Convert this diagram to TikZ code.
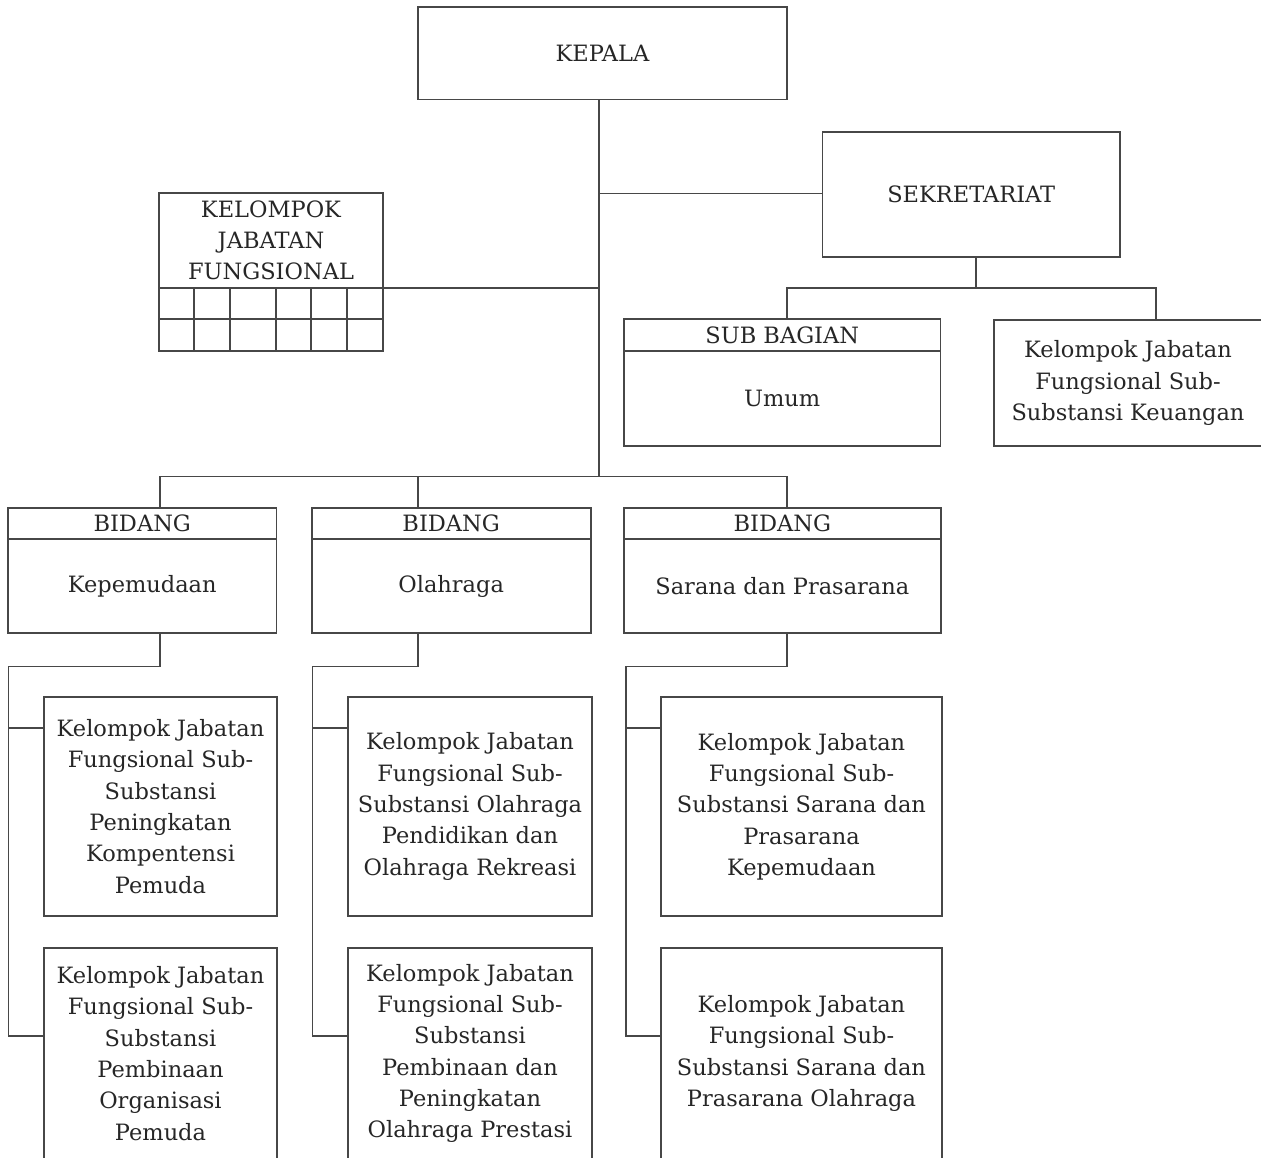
\documentclass[tikz,border=0pt]{standalone}
\usepackage{fontspec}
\setmainfont{DejaVu Serif}
\newcommand{\fs}{\fontsize{22.5}{31.3}\selectfont}
\begin{document}
\begin{tikzpicture}[x=1pt,y=-1pt,
  ln/.style={draw=black!72, line width=1.8pt},
  box/.style={draw=black!72, line width=1.8pt, rectangle, inner sep=0pt, outer sep=0pt, align=center, text=black!85, font=\fs},
]
\path[use as bounding box] (0,0) rectangle (1261,1157);
% top level
\node[box, minimum width=369pt, minimum height=92.5pt] (kepala) at (602.5,53.25) {KEPALA};
\node[box, minimum width=297.5pt, minimum height=124.4pt] (sekr) at (971.25,194.5) {SEKRETARIAT};
\node[box, minimum width=223.4pt, minimum height=94.4pt] (kjf) at (271,240.5) {KELOMPOK\\JABATAN\\FUNGSIONAL};
% grid under KJF
\draw[ln] (kjf.south west) rectangle ++(223.4,63);
\draw[ln] (kjf.south west) ++(0,31.3) -- ++(223.4,0);
\foreach \dx in {35,71,116.4,152,187.4}{\draw[ln] (kjf.south west) ++(\dx,0) -- ++(0,63);}
% sekretariat children
\node[box, minimum width=316.5pt, minimum height=31.4pt] (subh) at (782.25,335) {SUB BAGIAN};
\node[box, minimum width=316.5pt, minimum height=95.3pt, anchor=north] (subb) at (subh.south) {Umum};
\node[box, minimum width=268pt, minimum height=126pt] (keu) at (1128,383) {Kelompok Jabatan\\Fungsional Sub-\\Substansi Keuangan};
% bidang
\node[box, minimum width=268.5pt, minimum height=31.3pt] (bid1h) at (142.25,523.65) {BIDANG};
\node[box, minimum width=268.5pt, minimum height=94pt, anchor=north] (bid1b) at (bid1h.south) {Kepemudaan};
\node[box, minimum width=279.1pt, minimum height=31.3pt] (bid2h) at (451.15,523.65) {BIDANG};
\node[box, minimum width=279.1pt, minimum height=94pt, anchor=north] (bid2b) at (bid2h.south) {Olahraga};
\node[box, minimum width=316.7pt, minimum height=31.3pt] (bid3h) at (782.35,523.65) {BIDANG};
\node[box, minimum width=316.7pt, minimum height=94pt, anchor=north] (bid3b) at (bid3h.south) {Sarana dan Prasarana};
% children
\node[box, minimum width=233pt, minimum height=219pt] (c11) at (160.5,806.5) {Kelompok Jabatan\\Fungsional Sub-\\Substansi\\Peningkatan\\Kompentensi\\Pemuda};
\node[box, minimum width=233pt, minimum height=211pt] (c21) at (160.5,1053.5) {Kelompok Jabatan\\Fungsional Sub-\\Substansi\\Pembinaan\\Organisasi\\Pemuda};
\node[box, minimum width=244pt, minimum height=219pt] (c12) at (470,806.5) {Kelompok Jabatan\\Fungsional Sub-\\Substansi Olahraga\\Pendidikan dan\\Olahraga Rekreasi};
\node[box, minimum width=244pt, minimum height=211pt] (c22) at (470,1053.5) {Kelompok Jabatan\\Fungsional Sub-\\Substansi\\Pembinaan dan\\Peningkatan\\Olahraga Prestasi};
\node[box, minimum width=281pt, minimum height=219pt] (c13) at (801.5,806.5) {Kelompok Jabatan\\Fungsional Sub-\\Substansi Sarana dan\\Prasarana\\Kepemudaan};
\node[box, minimum width=281pt, minimum height=211pt] (c23) at (801.5,1053.5) {Kelompok Jabatan\\Fungsional Sub-\\Substansi Sarana dan\\Prasarana Olahraga};
% connectors
\coordinate (j0) at (599,476.5);
\coordinate (js) at (599,193.5);
\draw[ln] (kepala.south -| j0) -- (j0);
\draw[ln] (js) -- (js -| sekr.west);
\draw[ln] (kjf.south east) -- (kjf.south east -| j0);
\coordinate (sj) at (976,288.3);
\coordinate (sl) at (787,288.3);
\coordinate (sr) at (1156,288.3);
\draw[ln] (sekr.south -| sj) -- (sj);
\draw[ln] (subh.north -| sl) -- (sl) -- (sr) -- (sr |- keu.north);
\coordinate (b1) at (160,476.5);
\coordinate (b2) at (418,476.5);
\coordinate (b3) at (787,476.5);
\draw[ln] (bid1h.north -| b1) -- (b1) -- (b3) -- (bid3h.north -| b3);
\draw[ln] (b2) -- (bid2h.north -| b2);
\coordinate (r1) at (0,728.3);
\coordinate (r2) at (0,1036);
\coordinate (s1) at (160,666.5);  \coordinate (l1) at (8.5,666.5);
\coordinate (s2) at (418,666.5);  \coordinate (l2) at (312.4,666.5);
\coordinate (s3) at (787,666.5);  \coordinate (l3) at (626,666.5);
\draw[ln] (bid1b.south -| s1) -- (s1) -- (l1) -- (l1 |- r2) -- (c21.west |- r2);
\draw[ln] (l1 |- r1) -- (c11.west |- r1);
\draw[ln] (bid2b.south -| s2) -- (s2) -- (l2) -- (l2 |- r2) -- (c22.west |- r2);
\draw[ln] (l2 |- r1) -- (c12.west |- r1);
\draw[ln] (bid3b.south -| s3) -- (s3) -- (l3) -- (l3 |- r2) -- (c23.west |- r2);
\draw[ln] (l3 |- r1) -- (c13.west |- r1);
\end{tikzpicture}
\end{document}
